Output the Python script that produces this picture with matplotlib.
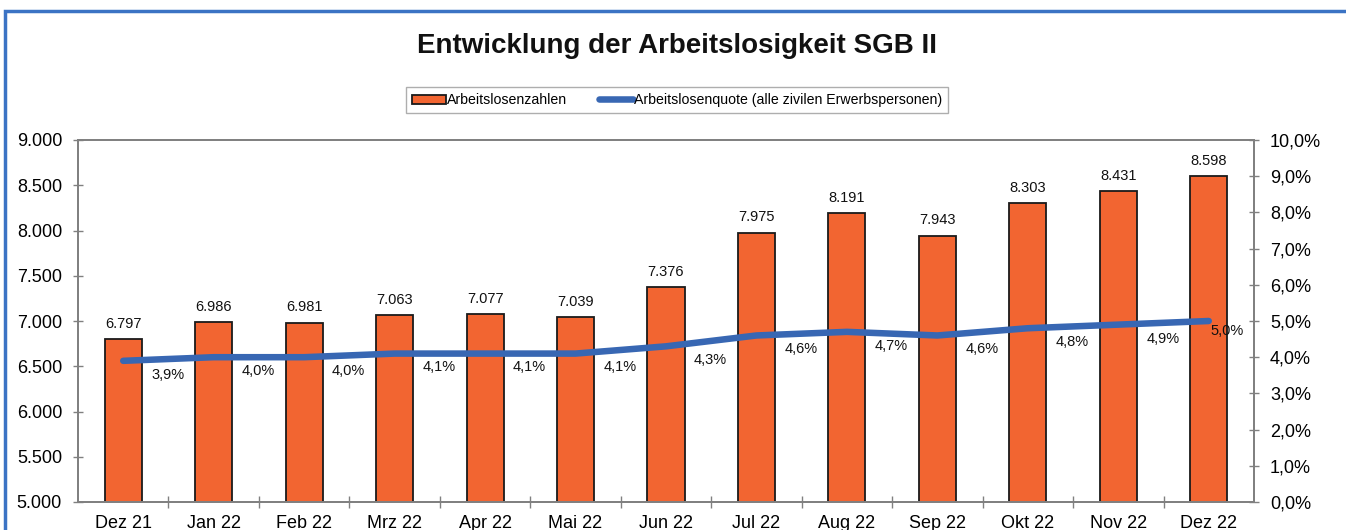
import matplotlib
matplotlib.use("Agg")
import matplotlib.pyplot as plt
from matplotlib.patches import Rectangle
from matplotlib.ticker import FixedLocator, FuncFormatter

plt.rcParams['font.family'] = ['Liberation Sans', 'DejaVu Sans']

categories = ["Dez 21", "Jan 22", "Feb 22", "Mrz 22", "Apr 22", "Mai 22", "Jun 22",
              "Jul 22", "Aug 22", "Sep 22", "Okt 22", "Nov 22", "Dez 22"]
arbeitslose = [6797, 6986, 6981, 7063, 7077, 7039, 7376, 7975, 8191, 7943, 8303, 8431, 8598]
quote = [3.9, 4.0, 4.0, 4.1, 4.1, 4.1, 4.3, 4.6, 4.7, 4.6, 4.8, 4.9, 5.0]

title = "Entwicklung der Arbeitslosigkeit SGB II"
bar_label = "Arbeitslosenzahlen"
line_label = "Arbeitslosenquote (alle zivilen Erwerbspersonen)"

BAR_COLOR = "#F26531"
LINE_COLOR = "#3867B3"
AXIS_GRAY = "#808080"

def de_int(v):
    return f"{int(v):,}".replace(",", ".")

def de_pct(v):
    return f"{v:.1f}".replace(".", ",") + "%"

fig = plt.figure(figsize=(13.46, 5.30), dpi=100)
ax = fig.add_axes([78/1346, 28/530, (1254-78)/1346, (502-140)/530])
ax2 = ax.twinx()

x = list(range(len(categories)))
bars = ax.bar(x, arbeitslose, width=0.41, color=BAR_COLOR, edgecolor="#1a1a1a",
              linewidth=1.3, zorder=2, label=bar_label)
ax.set_ylim(5000, 9000)
ax.set_xlim(-0.5, len(categories) - 0.5)
ax.set_yticks(range(5000, 9001, 500))
ax.yaxis.set_major_formatter(FuncFormatter(lambda v, p: de_int(v)))
ax.set_xticks(x)
ax.set_xticklabels(categories)
ax.xaxis.set_minor_locator(FixedLocator([i + 0.5 for i in range(len(categories) - 1)]))
ax.tick_params(axis='x', which='major', length=0, labelsize=13, pad=9)
ax.tick_params(axis='x', which='minor', length=8, direction='inout', color=AXIS_GRAY, width=1)
ax.tick_params(axis='y', which='major', length=7, direction='inout', color=AXIS_GRAY,
               width=1, labelsize=13, pad=8)

for xi, v in zip(x, arbeitslose):
    ax.annotate(de_int(v), (xi, v), xytext=(0, 6), textcoords='offset points',
                ha='center', va='bottom', fontsize=10.5, color='#111111')

ax2.set_ylim(0, 10)
ax2.set_yticks(range(0, 11))
ax2.yaxis.set_major_formatter(FuncFormatter(lambda v, p: de_pct(v)))
ax2.tick_params(axis='y', which='major', length=7, direction='inout', color=AXIS_GRAY,
                width=1, labelsize=13, pad=8)
ln, = ax2.plot(x, quote, color=LINE_COLOR, linewidth=4.7, solid_capstyle='round',
               solid_joinstyle='round', zorder=3, label=line_label)

for i, (xi, v) in enumerate(zip(x, quote)):
    if i == len(x) - 1:
        off = (13, -7)
    else:
        off = (32, -10)
    ax2.annotate(de_pct(v), (xi, v), xytext=off, textcoords='offset points',
                 ha='center', va='center', fontsize=10.5, color='#111111')

for a in (ax, ax2):
    for s in a.spines.values():
        s.set_color(AXIS_GRAY)
        s.set_linewidth(1.3)
ax.set_zorder(1)
ax2.set_zorder(2)
ax.patch.set_visible(False)

fig.text(677/1346, 1 - 46/530, title, ha='center', va='center', fontsize=20,
         fontweight='bold', color='#111111')

leg = fig.legend(handles=[bars, ln], labels=[bar_label, line_label], loc='center',
                 bbox_to_anchor=(677/1346, 1 - 100/530), ncol=2, fontsize=10.2,
                 frameon=True, fancybox=False, edgecolor='#9a9a9a', handlelength=2.4,
                 handletextpad=0.1, columnspacing=2.2, borderpad=0.4,
                 handleheight=0.6)
leg.get_frame().set_linewidth(1.0)

border = Rectangle((4.5/1346, -0.2), 1.5, (530 - 11)/530 + 0.2, transform=fig.transFigure,
                   fill=False, edgecolor="#3B73C4", linewidth=2.5, clip_on=False)
fig.patches.append(border)

fig.savefig("out.png", dpi=100)
